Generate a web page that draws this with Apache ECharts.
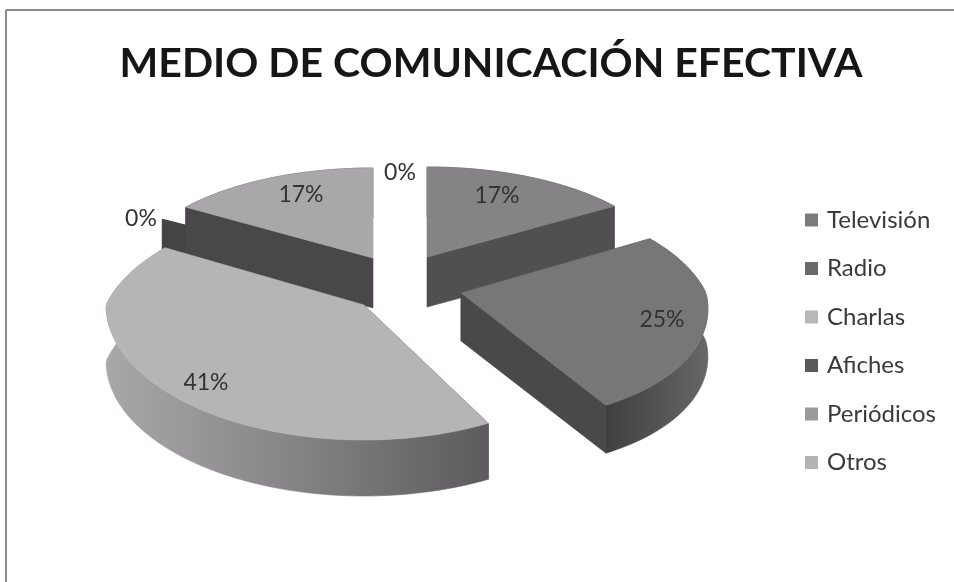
<!DOCTYPE html>
<html>
<head>
<meta charset="utf-8">
<style>html,body{margin:0;padding:0;background:#fff}#chart{width:954px;height:582px}</style>
<script src="https://cdn.jsdelivr.net/npm/echarts@6/dist/echarts.min.js"></script>
</head>
<body>
<div id="chart"></div>
<script>
// Encuesta: medio de comunicación considerado más efectivo (porcentajes)
const chartTitle = 'MEDIO DE COMUNICACIÓN EFECTIVA';
const categories = ['Televisión', 'Radio', 'Charlas', 'Afiches', 'Periódicos', 'Otros'];
const percentages = [17, 25, 41, 0, 17, 0];

// Tono de cada medio: leyenda, cara superior, paredes radiales y borde curvo
const legendColors = ['#7b7b7b', '#696969', '#b9b9b9', '#5a5a5a', '#9a9a9a', '#b4b4b4'];
const topColors = ['#858385', '#787678', '#b6b4b6', '#555355', '#a9a7a9', '#b4b4b4'];
const wallColors = ['#524f52', '#4b484b', '#5a585a', '#454345', '#4a474a', '#4a474a'];
const rimStops = [
  ['#524f52', '#524f52'],
  ['#403e40', '#686668'],
  ['#a9a7a9', '#858385', '#5c5a5c'],
  ['#454345', '#454345'],
  ['#4a474a', '#4a474a'],
  ['#4a474a', '#4a474a']
];

// Geometría de la torta en perspectiva: cada porción se separa del centro
const pieCenter = [400, 283];
const explode = [[27, -26], [61, 10], [-36, 22], [-45, -15], [-27, -25], [0, 0]];
const radiusX = [243, 245, 258, 250, 243, 243];
const radiusY = [120, 128, 135, 115, 120, 115];
const lean = [0, 0.24, 0, 0, 0, 0];
const depth = [50, 48, 56, 50, 50, 50];
const labelOffset = [[70, -61], [201, 27], [-158, 78], [-214, -49], [-72, -63], [0, -110]];
// Orden de pintado, de atrás hacia adelante
const paintLayer = [2, 4, 3, 0, 1, 5];
const backSqueeze = 0.25;

const total = percentages.reduce((a, b) => a + b, 0);
const startAngles = [];
percentages.reduce((acc, v, i) => { startAngles[i] = acc; return acc + v / total * 2 * Math.PI; }, 0);

function apex(i) {
  return [pieCenter[0] + explode[i][0], pieCenter[1] + explode[i][1]];
}
function rimPoint(i, theta) {
  const v = -Math.cos(theta);
  const s = v < 0 ? 1 + backSqueeze * v : 1;
  const dy = radiusY[i] * v * s;
  const dx = radiusX[i] * Math.sin(theta) * s + lean[i] * Math.max(0, dy);
  return [apex(i)[0] + dx, apex(i)[1] + dy];
}
function down(p, d) { return [p[0], p[1] + d]; }

function renderSlice(i, params, api) {
  const value = api.value(0);
  const a0 = startAngles[i];
  const a1 = a0 + value / total * 2 * Math.PI;
  const steps = Math.max(1, Math.ceil((a1 - a0) / (Math.PI / 90)));
  const arc = [];
  for (let k = 0; k <= steps; k++) arc.push(rimPoint(i, a0 + (a1 - a0) * k / steps));
  const c = apex(i), d = depth[i];
  const poly = (points, fill) => ({
    type: 'polygon',
    shape: { points },
    style: { fill, stroke: fill, lineWidth: 0.6 }
  });
  const children = [];
  const first = arc[0], last = arc[arc.length - 1];
  // Una pared sin ancho en pantalla no se dibuja
  if (Math.abs(first[0] - c[0]) > 1) children.push(poly([c, first, down(first, d), down(c, d)], wallColors[i]));
  if (Math.abs(last[0] - c[0]) > 1) children.push(poly([c, last, down(last, d), down(c, d)], wallColors[i]));
  if (value > 0) {
    const stops = rimStops[i];
    const fill = new echarts.graphic.LinearGradient(0, 0, 1, 0,
      stops.map((color, n) => ({ offset: n / (stops.length - 1), color })));
    children.push(poly(arc.concat(arc.slice().reverse().map(p => down(p, d))), fill));
    children.push(poly([c].concat(arc), topColors[i]));
  }
  children.push({
    type: 'text',
    z2: 10,
    style: {
      text: value + '%',
      x: c[0] + labelOffset[i][0],
      y: c[1] + labelOffset[i][1],
      align: 'center',
      verticalAlign: 'middle',
      fill: '#333',
      font: '23px Lato'
    }
  });
  return { type: 'group', children };
}

const series = categories.map((name, i) => ({
  type: 'custom',
  name,
  coordinateSystem: 'none',
  z: 2 + paintLayer[i],
  silent: true,
  animation: false,
  itemStyle: { color: legendColors[i] },
  data: [[percentages[i]]],
  renderItem: (params, api) => renderSlice(i, params, api)
}));

const chart = echarts.init(document.getElementById('chart'), null, { renderer: 'canvas' });
chart.setOption({
  backgroundColor: '#ffffff',
  animation: false,
  title: {
    text: chartTitle,
    left: 486,
    top: 38,
    textAlign: 'center',
    textStyle: { fontFamily: 'Lato', fontWeight: 700, fontSize: 41, color: '#161616' }
  },
  legend: {
    orient: 'vertical',
    left: 800,
    top: 202,
    icon: 'rect',
    itemWidth: 13,
    itemHeight: 13,
    itemGap: 22.5,
    selectedMode: false,
    data: categories,
    textStyle: { fontFamily: 'Lato', fontSize: 24, color: '#3a3a3a', lineHeight: 26, padding: [0, 0, 0, 4] }
  },
  graphic: [
    { type: 'line', shape: { x1: 6, y1: 10, x2: 954, y2: 10 }, style: { stroke: '#8a8a8a', lineWidth: 2 } },
    { type: 'line', shape: { x1: 6, y1: 10, x2: 6, y2: 582 }, style: { stroke: '#8a8a8a', lineWidth: 2 } }
  ],
  series
});
</script>
</body>
</html>
